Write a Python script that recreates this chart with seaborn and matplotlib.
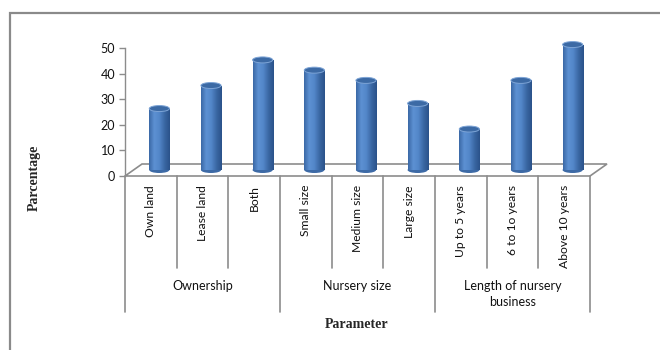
import seaborn as sns
import matplotlib.pyplot as plt
import matplotlib.transforms as mtransforms
from matplotlib.patches import Ellipse, Polygon, Rectangle
from matplotlib.colors import LinearSegmentedColormap
import numpy as np

# data
categories = ["Own land", "Lease land", "Both",
              "Small size", "Medium size", "Large size",
              "Up to 5 years", "6 to 1o years", "Above 10 years"]
values = [24, 33, 43, 39, 35, 26, 16, 35, 49]
groups = ["Ownership", "Nursery size", "Length of nursery\nbusiness"]
group_sizes = [3, 3, 3]
yticks = [0, 10, 20, 30, 40, 50]

W, H = 660, 350
sans = ["Lato", "DejaVu Sans"]
serif = ["Liberation Serif", "DejaVu Serif"]
line_col = "#8c8c8c"
text_col = "#111111"

sns.set_theme(style="white")
plt.rcParams["font.family"] = sans

fig = plt.figure(figsize=(6.6, 3.5), dpi=100)

def fx(px):
    return px / W

def fy(py):
    return (H - py) / H

# front axes (value axis + floor), pixel box of the plot
x_left, x_right = 125, 590
y_zero, y_top = 176, 48
depth_x, depth_y = 17, 12   # 3d depth offset of the floor in pixels

ax = fig.add_axes([fx(x_left), fy(y_zero), fx(x_right - x_left), (y_zero - y_top) / H])
ax.set_xlim(-0.5, len(categories) - 0.5)
ax.set_ylim(0, 50)
ax.patch.set_alpha(0)
for s in ["top", "right", "bottom"]:
    ax.spines[s].set_visible(False)
ax.spines["left"].set_color(line_col)
ax.spines["left"].set_linewidth(1.0)
ax.set_xticks([])
ax.set_yticks(yticks)
ax.tick_params(axis="y", direction="out", length=4, width=1, color=line_col,
               labelsize=9, pad=3, left=True, labelcolor=text_col)

# floor parallelogram
ux = len(categories) / (x_right - x_left)
uy = 50 / (y_zero - y_top)
floor = Polygon([(-0.5, 0), (len(categories) - 0.5, 0),
                 (len(categories) - 0.5 + depth_x * ux, depth_y * uy),
                 (-0.5 + depth_x * ux, depth_y * uy)],
                closed=True, facecolor="white", edgecolor=line_col, lw=1.2,
                clip_on=False, zorder=1)
ax.add_patch(floor)

# bars sit half way into the depth
ax2 = fig.add_axes([fx(x_left + depth_x / 2), fy(y_zero - depth_y / 2),
                    fx(x_right - x_left), (y_zero - y_top) / H])
bar_w = 0.39
sns.barplot(x=categories, y=values, ax=ax2, width=bar_w, color="#4f81bd",
            linewidth=0, saturation=1, zorder=2)

# cylinder shading
cmap = LinearSegmentedColormap.from_list(
    "cyl", ["#3b69a6", "#5d91d3", "#5286c8", "#3a67a3", "#2a528a"])
grad = np.linspace(0, 1, 64).reshape(1, -1)
ell_h = 6 * uy
for p, v in zip(list(ax2.patches), values):
    x0 = p.get_x()
    xc = x0 + p.get_width() / 2
    im = ax2.imshow(grad, extent=[x0, x0 + p.get_width(), 0, v], aspect="auto",
                    cmap=cmap, zorder=2.1, interpolation="bilinear")
    im.set_clip_path(p)
    im.set_clip_on(True)
    bottom = Ellipse((xc, 0), p.get_width(), ell_h, facecolor="#3d6aa6",
                     edgecolor="none", zorder=1.5, clip_on=False)
    ax2.add_patch(bottom)
    top = Ellipse((xc, v), p.get_width(), ell_h, facecolor="#3c6aa5",
                  edgecolor="#7da4d6", lw=0.7, zorder=3, clip_on=False)
    ax2.add_patch(top)

ax2.set_xlim(-0.5, len(categories) - 0.5)
ax2.set_ylim(0, 50)
ax2.axis("off")

# category table under the axis
trans = mtransforms.blended_transform_factory(ax.transData, fig.transFigure)
bounds = np.cumsum([0] + group_sizes) - 0.5
for i in range(len(categories) + 1):
    xb = i - 0.5
    y_end = 312 if xb in bounds else 268
    ax.plot([xb, xb], [fy(y_zero), fy(y_end)], color=line_col, lw=1.2,
            transform=trans, clip_on=False)

for i, c in enumerate(categories):
    ax.text(i, fy(185), c, rotation=90, ha="center", va="top", fontsize=8.7,
            transform=trans, family=sans, color=text_col)

for g, a, b in zip(groups, bounds[:-1], bounds[1:]):
    ax.text((a + b) / 2, fy(280), g, ha="center", va="top", fontsize=9,
            transform=trans, family=sans, color=text_col, linespacing=1.35)

# axis titles
fig.text(fx(357), fy(325), "Parameter", ha="center", va="center", fontsize=10,
         fontweight="bold", family=serif)
fig.text(fx(34), fy(178), "Parcentage", ha="center", va="center", fontsize=10,
         fontweight="bold", family=serif, rotation=90)

# outer chart border (cropped on right and bottom)
fig.patches.append(Rectangle((fx(10), -0.2), 1.2, fy(13) + 0.2, transform=fig.transFigure,
                             fill=False, edgecolor="#8a8a8a", lw=1.6, figure=fig))

fig.savefig("out.png", dpi=100)
